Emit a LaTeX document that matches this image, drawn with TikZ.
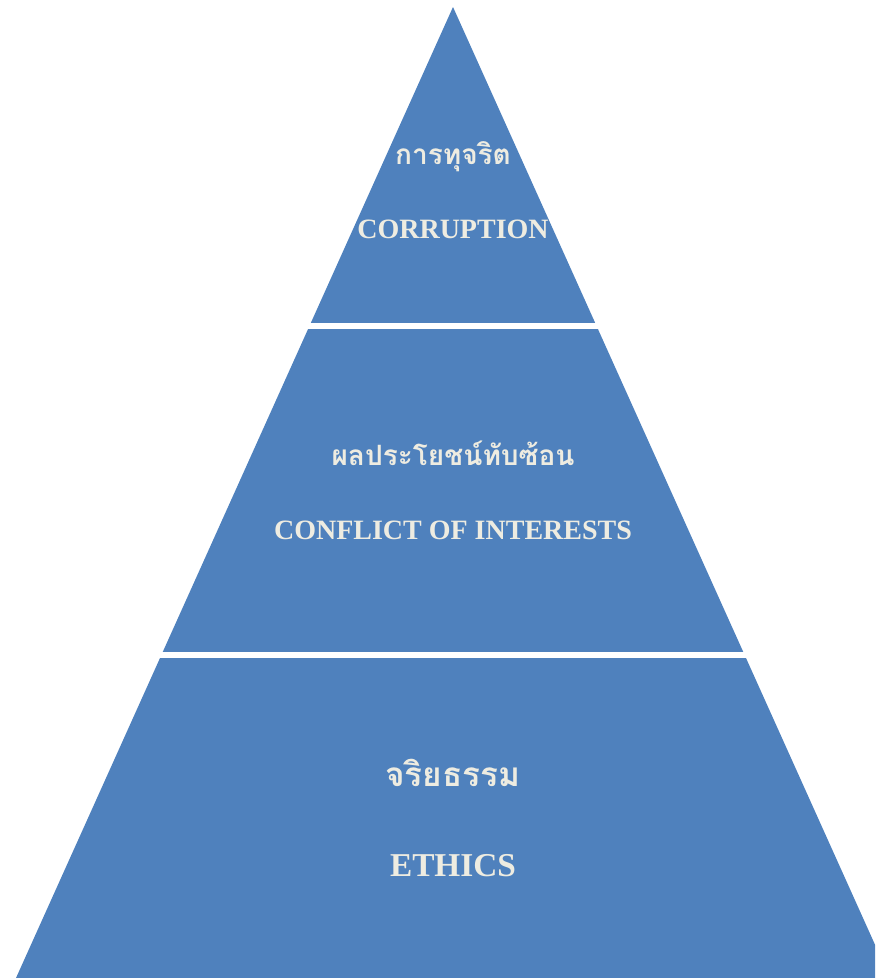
\documentclass[tikz,border=0pt]{standalone}
\usepackage{fontspec}
\setmainfont{Liberation Serif}
\newfontfamily\thaifont[Script=Thai]{Loma}
\usepackage{tikz}
\definecolor{pyrBlue}{HTML}{4F81BD}
\definecolor{pyrText}{HTML}{EEECE1}
\newcommand\apexX{453}
\newcommand\apexY{7}
\newcommand\baseY{978}
\newcommand\halfBase{437}
\newcommand\gapWidth{4}

\begin{document}
\begin{tikzpicture}[x=0.75pt,y=-0.75pt,
    thaiText/.style={text=pyrText, font=\thaifont\bfseries, inner sep=0pt},
    engText/.style={text=pyrText, font=\bfseries, inner sep=0pt}]
    \useasboundingbox (0,0) rectangle (875,978);
    \clip (0,0) rectangle (875,978);

    % the whole pyramid
    \fill[pyrBlue] (\apexX,\apexY) -- (\apexX-\halfBase,\baseY) -- (\apexX+\halfBase,\baseY) -- cycle;

    % white cuts between the levels
    \foreach \cutY in {326,655}{
      \draw[white, line width=\gapWidth] (0,\cutY) -- (875,\cutY);
    }

    % labels
    \node[thaiText, font=\thaifont\bfseries\fontsize{21}{26}\selectfont] (corruptTh) at (\apexX,157) {การทุจริต};
    \node[engText, font=\bfseries\fontsize{21}{25}\selectfont] (corruptEn) at (\apexX,229) {CORRUPTION};

    \node[thaiText, font=\thaifont\bfseries\fontsize{21}{26}\selectfont] (conflictTh) at (\apexX,453) {ผลประโยชน์ทับซ้อน};
    \node[engText, font=\bfseries\fontsize{21}{25}\selectfont] (conflictEn) at (\apexX,530) {CONFLICT OF INTERESTS};

    \node[thaiText, font=\thaifont\bfseries\fontsize{25}{30}\selectfont] (ethicsTh) at (\apexX,773) {จริยธรรม};
    \node[engText, font=\bfseries\fontsize{25}{30}\selectfont] (ethicsEn) at (\apexX,866) {ETHICS};
\end{tikzpicture}
\end{document}
